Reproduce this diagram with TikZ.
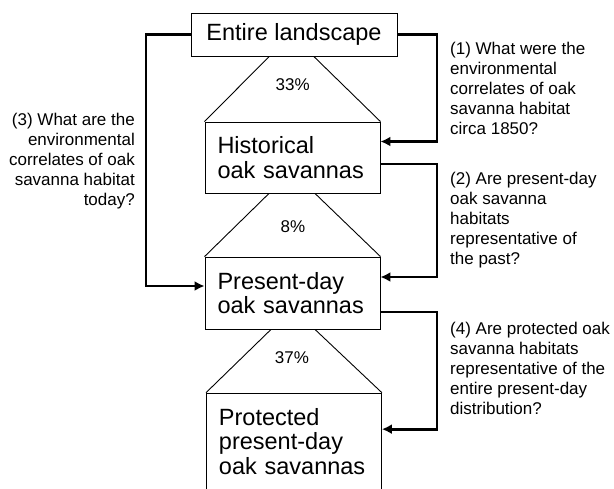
\documentclass[tikz,border=0pt]{standalone}
\usepackage{fontspec}
\setmainfont{Liberation Sans}
\usetikzlibrary{arrows.meta,calc}
\begin{document}
\begin{tikzpicture}[x=1pt,y=-1pt,
  box/.style={draw,line width=0.9pt,inner ysep=0pt,inner xsep=12.5pt,
    font=\fontsize{23.5}{24.5}\selectfont,align=left},
  trap/.style={line width=0.9pt},
  conn/.style={line width=2.8pt,-{Latex[length=10pt,width=10pt]}},
  pct/.style={font=\fontsize{17}{20}\selectfont,inner sep=0pt},
  question/.style={font=\fontsize{17}{20}\selectfont,inner sep=0pt}]
\useasboundingbox (0,0) rectangle (614,488);
\clip (0,0) rectangle (614,488);

\node[box,inner xsep=0pt,align=center,minimum width=206pt,minimum height=43pt] (b1) at (294,34.7) {Entire landscape};
\node[box,text width=150pt,minimum height=71pt] (b2) at (292.5,157.5) {Historical\\oak savannas};
\node[box,text width=150pt,minimum height=72pt] (b3) at (292.5,293) {Present-day\\oak savannas};
\node[box,text width=150pt,minimum height=96pt,anchor=north west] (b4) at (206,392.7) {Protected\\present-day\\oak savannas};

\draw[trap] ([xshift=-25pt]b1.south) -- (b2.north west);
\draw[trap] ([xshift=20pt]b1.south) -- (b2.north east);
\draw[trap] ([xshift=-23.5pt]b2.south) -- (b3.north west);
\draw[trap] ([xshift=22.5pt]b2.south) -- (b3.north east);
\draw[trap] ([xshift=-21.5pt]b3.south) -- (b4.north west);
\draw[trap] ([xshift=22.5pt]b3.south) -- (b4.north east);

\node[pct] (p1) at (292.7,85) {33\%};
\node[pct] (p2) at (293,227) {8\%};
\node[pct] (p3) at (292,358) {37\%};

\coordinate (xr) at (437,0);
\coordinate (xl) at (146,0);

\draw[conn] (b1.east) -- (b1.east -| xr) |- ([yshift=16pt]b2.east);
\draw[conn] ([yshift=-6.5pt]b2.east) -- ([yshift=-6.5pt]b2.east -| xr) |- ([yshift=16pt]b3.east);
\draw[conn] ([yshift=-19pt]b3.east) -- ([yshift=-19pt]b3.east -| xr) |- ([yshift=12pt]b4.east);
\draw[conn] (b1.west) -- (b1.west -| xl) |- ([yshift=7pt]b3.west);

\node[question,anchor=west,align=left] (q1) at (450,88) {(1) What were the\\environmental\\correlates of oak\\savanna habitat\\circa 1850?};
\node[question,anchor=west,align=left] (q2) at (450,220) {(2) Are present-day\\oak savanna\\habitats\\representative of\\the past?};
\node[question,anchor=west,align=left] (q4) at (450,368) {(4) Are protected oak\\savanna habitats\\representative of the\\entire present-day\\distribution?};
\node[question,anchor=east,align=right] (q3) at (135,161) {(3) What are the\\environmental\\correlates of oak\\savanna habitat\\today?};
\end{tikzpicture}
\end{document}
